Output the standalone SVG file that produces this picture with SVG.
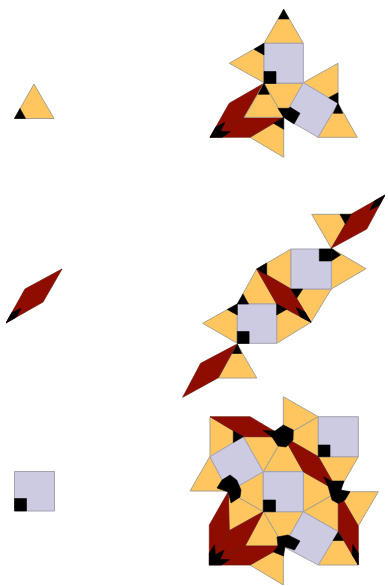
<svg xmlns="http://www.w3.org/2000/svg" width="388" height="586" viewBox="0 0 388 586">
<style>
.t{fill:#ffc65f;stroke:#a8a08a;stroke-width:1;stroke-linejoin:round}
.s{fill:#cdcbe2;stroke:#a5a3b0;stroke-width:1;stroke-linejoin:round}
.r{fill:#8e1005;stroke:#6e1008;stroke-width:.7;stroke-linejoin:round}
.k{fill:#000;stroke:#000;stroke-width:.6;stroke-linejoin:round}
</style>
<defs><filter id="soft" x="0" y="0" width="100%" height="100%"><feGaussianBlur stdDeviation="0.45"/></filter></defs>
<rect width="388" height="586" fill="#fff"/>
<g filter="url(#soft)">
<g id="legend">
<polygon class="t" points="14.5,118.5 54,118.5 34,84"/>
<polygon class="k" points="14.5,118.5 25.5,118.5 20,108.5"/>
<polygon class="r" points="6,323 25,289 62,269 43,302"/>
<polygon class="k" points="6,323 11.9,312.6 21,308.5 16.4,317.1"/>
<rect class="s" x="14.5" y="471.5" width="40" height="39.5"/>
<rect class="k" x="14.5" y="498.5" width="12" height="12.5"/>
</g>
<g id="cluster1">
<polygon class="t" points="264,43.3 303.3,43.3 283.7,9.3"/>
<polygon class="t" points="264,43.3 264,82.7 229.3,63.3"/>
<polygon class="t" points="264,83.3 303.3,83.3 283.7,117.3"/>
<polygon class="t" points="303.3,82.7 338,63.3 338,103.3"/>
<polygon class="t" points="338,103.3 318,137.3 357.3,137.3"/>
<polygon class="t" points="250,137.3 283.7,117.3 283.7,157.3"/>
<polygon class="r" points="264,83.3 229.3,103.3 210,137.3 244.3,117.3"/>
<polygon class="r" points="210,137.3 250,137.3 283.7,117.3 244.3,117.3"/>
<polygon class="t" points="264,83.3 244.3,117.3 283.7,117.3"/>
<rect class="s" x="264" y="43.3" width="39.3" height="39.7"/>
<polygon class="s" points="303.3,82.7 338,103.3 318,137.3 283.7,117.3"/>
<polygon class="k" points="283.7,9.3 278.4,19 289,19"/>
<polygon class="k" points="264,43.3 254,49.3 264,55"/>
<rect class="k" x="264" y="71.5" width="12" height="12"/>
<polygon class="k" points="264,83.3 258.3,94.3 269.3,94.3"/>
<polygon class="k" points="338,103.3 338,92.7 328.7,97.7"/>
<polygon class="k" points="338,103.3 333.3,113.3 342.7,113.3"/>
<polygon class="k" points="283.7,117.3 278,108.3 289,108.3"/>
<polygon class="k" points="283.7,117.3 290,107 300,113.3 294,124"/>
<polygon class="k" points="283.7,117.3 273.5,123.3 283.7,129.3"/>
<polygon class="k" points="210,137.3 215.9,126.9 224.8,122.5 220.4,131.3 230.3,131.8 222,137.3"/>
</g>
<g id="cluster2">
<polygon class="t" points="311.7,214.3 351,214.3 331.3,248.3"/>
<polygon class="t" points="331.3,248.3 331.3,289 366,268.7"/>
<polygon class="t" points="291,249 291,289 256.7,269"/>
<polygon class="t" points="256.7,269 237.3,304 276.7,304"/>
<polygon class="t" points="237.3,304 237.3,343.3 202.7,323.3"/>
<polygon class="t" points="291,289 331.3,289 311,322.3"/>
<polygon class="t" points="276.7,304 276.7,343.3 311,322.3"/>
<polygon class="t" points="237.3,344.3 218.3,378 256.7,378"/>
<rect class="s" x="291" y="249" width="40.3" height="40"/>
<rect class="s" x="237.3" y="304" width="39.4" height="39.3"/>
<polygon class="r" points="331.3,248.3 351,214.3 385,195 366.7,229"/>
<polygon class="r" points="256.7,269 276.7,304 311,322.3 291,289"/>
<polygon class="r" points="236.7,344.3 200.7,363.3 182.7,397.3 218.3,377.7"/>
<polygon class="k" points="351,214.3 340,214.3 345.3,224"/>
<polygon class="k" points="385,195 374.6,200.9 370,210 379.1,205.4"/>
<rect class="k" x="319.3" y="249" width="12" height="12"/>
<polygon class="k" points="331.3,248.3 331.3,261 340.5,255"/>
<polygon class="k" points="256.7,269 266.7,263 266.7,275"/>
<polygon class="k" points="237.3,304 243,294 248.5,304"/>
<polygon class="k" points="237.3,304 227.3,309.5 237.3,315"/>
<rect class="k" x="237.3" y="331.5" width="11.8" height="12"/>
<polygon class="k" points="291,289 302.7,289 296.7,298.3"/>
<polygon class="k" points="276.7,304 276.7,315 286.7,309.3"/>
<polygon class="k" points="311,322.3 300.4,316.7 296.1,307.6 304.9,312"/>
<polygon class="k" points="237.3,344.3 232.3,353.5 241.7,353.5"/>
</g>
<g id="cluster3">
<polygon class="t" points="263.3,471.7 303.3,471.7 283.7,436.7"/>
<polygon class="t" points="303.3,471.7 303.3,511.7 338.3,491.7"/>
<polygon class="t" points="263.3,471.7 263.3,511.7 228.3,491.7"/>
<polygon class="t" points="263.3,511.7 303.3,511.7 283.7,546"/>
<polygon class="t" points="210,416.7 210,456.7 243.3,436.7"/>
<polygon class="t" points="243.3,436.7 283.7,436.7 263.3,471.7"/>
<polygon class="t" points="283.3,396.7 283.3,436.7 318.3,416.7"/>
<polygon class="t" points="283.7,436.7 318.3,416.7 318.3,456.7"/>
<polygon class="t" points="318.3,456.7 358.3,456.7 338.3,491.7"/>
<polygon class="t" points="338.3,491.7 378.3,491.7 358.3,526"/>
<polygon class="t" points="303.3,511.7 338.3,491.7 338.3,531.7"/>
<polygon class="t" points="338.3,531.7 318.3,565 358.3,565"/>
<polygon class="t" points="228.3,491.7 228.3,531 263.3,511.7"/>
<polygon class="t" points="263.3,511.7 245,546 283.7,546"/>
<polygon class="t" points="250,565 283.3,546 283.3,585"/>
<polygon class="t" points="209.7,456.7 190,491 228.3,491"/>
<rect class="s" x="263.3" y="471.7" width="40" height="40"/>
<rect class="s" x="318.3" y="416.7" width="40" height="40"/>
<polygon class="s" points="210,456.7 243.3,436.7 263.3,471.7 228.3,491.7"/>
<polygon class="s" points="303.3,511.7 338.3,531.7 318.3,565 283.7,546.7"/>
<polygon class="r" points="210,416.7 250,416.7 283.7,436.7 243.3,436.7"/>
<polygon class="r" points="283.7,436.7 318.3,456.7 338.3,491.7 303.3,471.7"/>
<polygon class="r" points="338.3,491.7 358.3,526 358.3,565 338.3,531"/>
<polygon class="r" points="228.3,491.7 209.3,525 209.3,565 229.3,530.7"/>
<polygon class="r" points="209.3,565 229.3,530.7 263.3,511.7 245,546"/>
<polygon class="r" points="209.3,565 245,546 283.7,546 250,565"/>
<polygon class="k" points="243.3,436.7 233.3,431 233.3,442.5"/>
<polygon class="k" points="263,430.5 275,431 283.3,425 293.3,430 293,440 286,447 278,446 272,437"/>
<rect class="k" x="318.3" y="445" width="11.7" height="11.7"/>
<rect class="k" x="263.3" y="500" width="12.2" height="11.7"/>
<polygon class="k" points="323.6,476.8 331,481 344,481 341,490 350,491.7 345,500 338.3,503.5 332,500 328,486"/>
<polygon class="k" points="358.3,565 358.3,553 352.8,544.7 352.2,554.7"/>
<polygon class="k" points="338.3,531.7 333,540.5 343.5,540.5"/>
<polygon class="k" points="277,537 288,535 300,541 294.5,550 285,546.7 283.5,556 273.5,552 278,546"/>
<polygon class="k" points="217,488 222,480 230,475 236.7,480 241,490 240,497 231,503 228.3,492"/>
<polygon class="k" points="209.3,565 209.3,553 214.6,544.6 215.3,554.7 224.2,550.3 219.9,559.4 229.7,559.7 221.3,565"/>
</g>
</g>
</svg>
